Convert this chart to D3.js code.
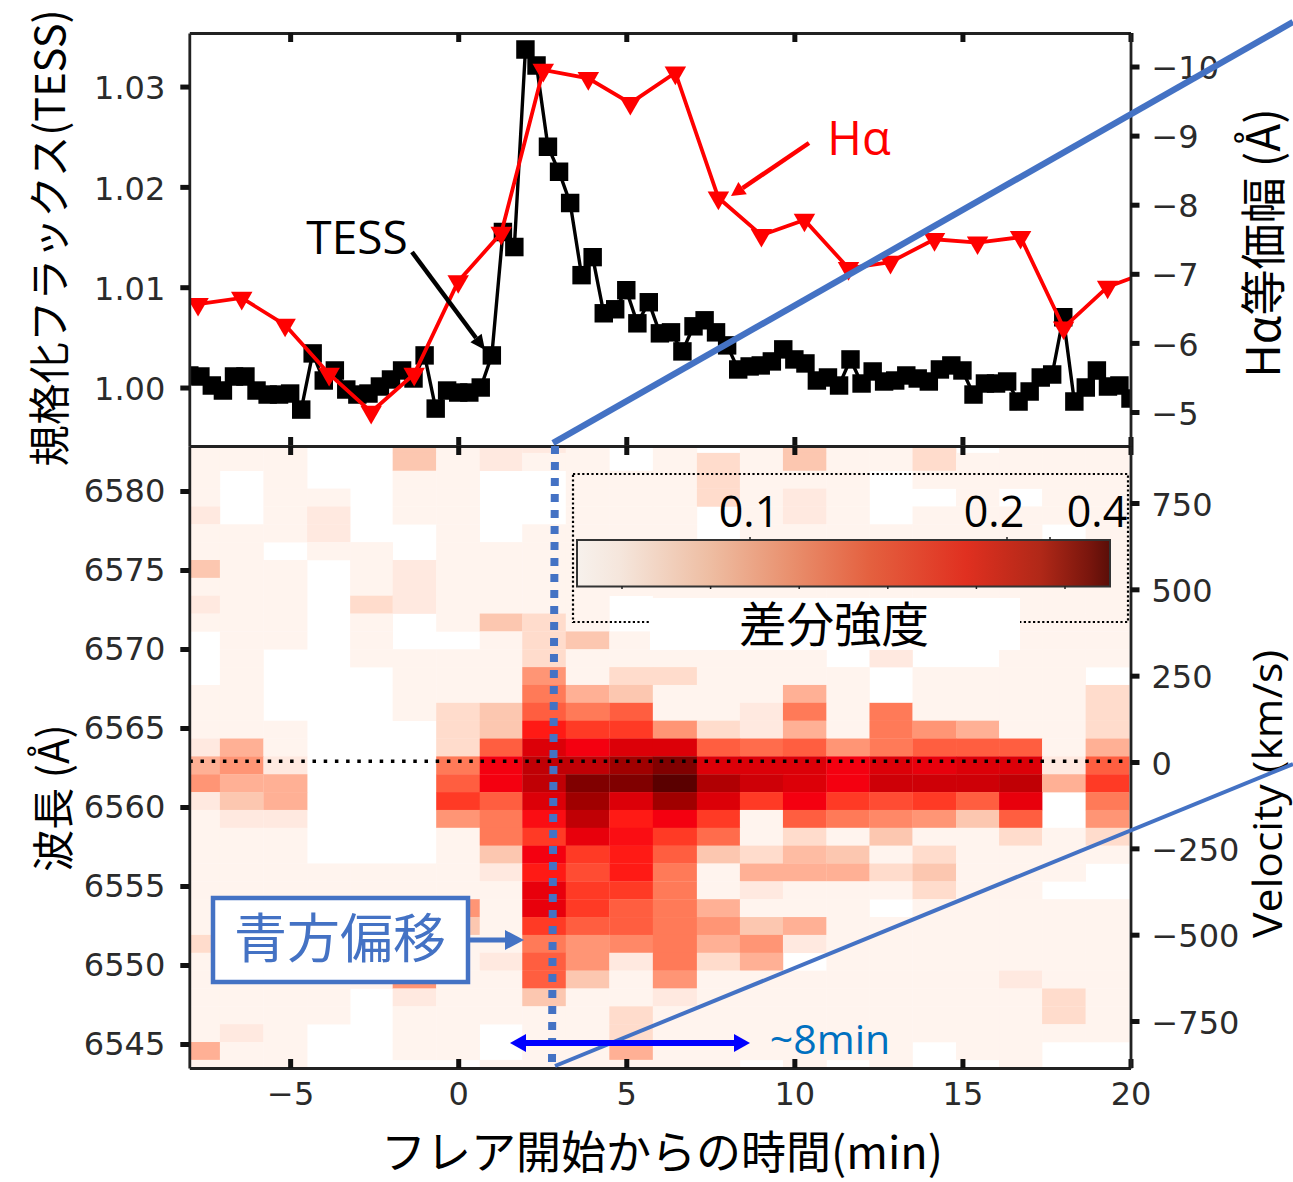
<!DOCTYPE html>
<html>
<head>
<meta charset="utf-8">
<script src="https://cdn.jsdelivr.net/npm/d3@7"></script>
<style>
  body { margin: 0; background: #fff; }
  svg { display: block; }
  .tick text { font-family: "DejaVu Sans", sans-serif; font-size: 32px; fill: #2b2b2b; }
  .jp { font-family: "Noto Sans CJK JP", sans-serif; }
  .latin { font-family: "Open Sans", "Noto Sans", sans-serif; }
</style>
</head>
<body>
<svg id="chart" width="1293" height="1182"></svg>
<script>
const n = null;

// TESS light curve
const tessTime = [-8.00,-7.67,-7.33,-7.00,-6.67,-6.33,-6.00,-5.67,-5.33,-5.00,-4.67,-4.33,-4.00,-3.67,-3.33,-3.00,-2.67,-2.33,-2.00,-1.67,-1.33,-1.00,-0.67,-0.33,0.00,0.33,0.67,1.00,1.33,1.67,2.00,2.33,2.67,3.00,3.33,3.67,4.00,4.33,4.67,5.00,5.33,5.67,6.00,6.33,6.67,7.00,7.33,7.67,8.00,8.33,8.67,9.00,9.33,9.67,10.00,10.33,10.67,11.00,11.33,11.67,12.00,12.33,12.67,13.00,13.33,13.67,14.00,14.33,14.67,15.00,15.33,15.67,16.00,16.33,16.67,17.00,17.33,17.67,18.00,18.33,18.67,19.00,19.33,19.67,20.00];
const tessFlux = [1.0012,1.0011,1.0002,0.9997,1.0011,1.0011,0.9997,0.9993,0.9993,0.9994,0.9978,1.0034,1.0007,1.0017,0.9998,0.9993,0.9994,1.0001,1.0008,1.0017,1.0009,1.0032,0.9979,0.9997,0.9995,0.9995,1.0000,1.0032,1.0155,1.0140,1.0337,1.0321,1.0240,1.0215,1.0184,1.0112,1.0130,1.0074,1.0078,1.0097,1.0064,1.0085,1.0054,1.0055,1.0036,1.0061,1.0067,1.0055,1.0042,1.0018,1.0021,1.0022,1.0026,1.0038,1.0028,1.0024,1.0007,1.0010,1.0002,1.0028,1.0004,1.0016,1.0006,1.0007,1.0012,1.0009,1.0006,1.0018,1.0022,1.0017,0.9993,1.0004,1.0004,1.0006,0.9986,0.9996,1.0010,1.0013,1.0070,0.9986,1.0000,1.0017,1.0001,1.0002,0.9989];

// H-alpha equivalent width
const haTime = [-7.74,-6.44,-5.15,-3.84,-2.59,-1.31,0.00,1.28,2.53,3.87,5.12,6.46,7.74,9.02,10.30,11.61,12.86,14.17,15.45,16.73,18.01,19.32,20.60];
const haWidth = [-6.56,-6.65,-6.26,-5.55,-5.00,-5.55,-6.89,-7.59,-9.95,-9.83,-9.47,-9.91,-8.10,-7.56,-7.78,-7.08,-7.17,-7.50,-7.45,-7.53,-6.22,-6.81,-7.04];

// spectrogram rows (Angstrom), one row of colour levels per wavelength
const waveRows = [6582.98,6581.85,6580.72,6579.59,6578.46,6577.33,6576.20,6575.07,6573.94,6572.81,6571.68,6570.55,6569.42,6568.29,6567.16,6566.03,6564.90,6563.77,6562.64,6561.51,6560.38,6559.25,6558.12,6556.99,6555.86,6554.73,6553.60,6552.47,6551.34,6550.21,6549.08,6547.95,6546.82,6545.69,6544.56,6543.43];
const waveStep = 1.129;
const diffLevels = [
  [0,0,0,n,n,3,0,1,1,0,n,0,n,0,3,0,0,2,n,0,0,0],
  [0,0,0,n,n,3,0,1,0,0,n,0,2,0,3,0,0,2,0,0,0,0],
  [0,n,0,n,n,0,0,n,n,0,0,0,2,0,0,0,n,0,0,0,0,0],
  [0,n,0,0,n,0,0,n,n,0,0,0,2,0,1,0,n,n,0,n,0,0],
  [1,n,0,1,n,0,0,n,n,0,0,0,n,0,1,0,n,0,0,0,0,0],
  [0,0,0,1,n,n,0,n,0,0,0,0,n,0,0,0,0,0,0,0,n,0],
  [0,0,n,0,0,n,0,0,0,0,0,0,0,0,0,0,0,0,0,0,0,0],
  [3,0,0,n,0,1,0,0,0,0,0,0,0,0,0,0,0,0,0,0,0,0],
  [0,0,0,n,0,1,0,0,0,0,0,0,0,0,0,0,0,0,0,0,0,0],
  [1,0,0,n,2,1,0,0,0,0,n,0,0,0,0,0,0,0,0,0,0,0],
  [0,0,0,n,0,n,0,3,2,0,n,0,0,0,0,0,0,0,0,0,0,0],
  [n,0,0,n,0,n,n,0,2,3,0,0,0,0,0,0,0,0,0,0,0,0],
  [n,0,n,n,0,0,0,0,2,0,0,0,0,0,0,n,1,n,n,0,0,0],
  [n,0,n,n,n,0,0,0,5,0,2,2,0,0,0,0,n,0,0,0,0,n],
  [0,0,n,n,n,0,0,0,6,4,3,0,0,0,4,0,n,0,0,0,0,2],
  [0,0,n,n,n,0,2,3,7,6,7,0,0,1,6,0,6,0,0,0,0,2],
  [0,0,0,n,n,n,2,3,9,8,8,5,2,1,4,0,6,5,4,0,0,2],
  [1,4,0,n,n,n,2,7,11,10,11,11,7,6.5,7,5,6,7,7,7,0,4],
  [4,5,1,n,n,n,6,10,12,12,13,14,11,11,11,10,11,10.5,11,11,1,7],
  [5,4,4,n,n,n,7,10,12,14,14,15,12.5,11.5,11,10,11.5,11.5,11.5,12,4,8],
  [1,3,4,n,n,n,8,7,11,13,11,13,11,8,10,8,7.5,8,7,10.5,n,6],
  [0,1,1,n,n,n,5,6,9.5,12,9,10,8,0,7,6,5.5,5,3,7,n,5],
  [0,0,0,n,n,n,0,6,8,10.5,9.5,8,6.5,0,2,0,3,0,0,2,0,2],
  [0,0,0,n,n,n,0,3,10,8,9,7,3,2,3.5,3,0,2,0,0,0,0],
  [0,0,0,0,0,0,0,1,9,7.5,9,6,0,4,4,4,2,3,0,0,0,n],
  [0,0,0,0,0,0,0,0,10.5,8,8,6,0,1,0,0,0,2,0,0,n,n],
  [0,0,0,0,0,0,5,0,10.5,8,7,6,4,0,0,0,n,0,0,0,0,0],
  [0,0,0,0,0,0,3,0,8,7,7,6,5,3,4,0,0,0,0,0,0,0],
  [2,0,0,0,0,0,0,0,6,5,5.5,6,4,5,1,0,0,0,0,0,0,0],
  [0,0,0,0,0,0,0,1,7,5,1,6,2,4,n,0,0,0,0,0,0,0],
  [0,0,0,0,0,5,0,0,7,3,0,5,0,0,0,0,0,0,0,1,0,0],
  [0,0,0,0,n,1,0,0,3,0,0,1,0,0,0,0,0,0,0,0,2,0],
  [0,0,0,0,n,0,0,0,0,0,2,0,0,0,0,0,0,0,0,0,2,0],
  [0,1,0,n,n,0,0,n,0,0,2,0,0,0,0,0,0,0,0,0,0,0],
  [4,0,0,n,n,0,0,n,0,0,4,0,0,0,0,0,0,n,0,0,n,n],
  [0,0,0,n,n,n,n,0,0,0,0,0,0,n,0,n,0,n,n,0,n,n]
];
const levelColors = ["#fff4ee","#ffe9e0","#ffdccc","#fcc7b0","#ffb095","#ff9575","#ff7a58","#ff5e40","#ff3a25","#ff1a15","#f40010","#dc0008","#c00005","#a00000","#800000","#5a0000"];

// ticks
const timeTicks = [-5, 0, 5, 10, 15, 20];
const fluxTicks = [1.00, 1.01, 1.02, 1.03];
const widthTicks = [-10, -9, -8, -7, -6, -5];
const waveTicks = [6580, 6575, 6570, 6565, 6560, 6555, 6550, 6545];
const velocityTicks = [750, 500, 250, 0, -250, -500, -750];

// colour bar
const barOffsets = [0, 0.08, 0.25, 0.4, 0.55, 0.73, 0.87, 0.96, 1];
const barColors = ["#f7f1ec", "#f5e6dc", "#eebda2", "#e9906e", "#e4603f", "#e03020", "#b02818", "#7a160d", "#5a0e08"];
const barTopTicks = [0.1, 0.2, 0.4];
const barBottomTicks = [1, 2, 3, 4, 5, 6];

const plotLeft = 189.3, plotRight = 1130.5, plotTop = 33, plotMid = 446, plotBottom = 1068;
const blue = "#4472c4";

const svg = d3.select("#chart");

const x = d3.scaleLinear().domain([-8, 20]).range([plotLeft, plotRight]);
const yFlux = d3.scaleLinear().domain([1.03534, 0.99417]).range([plotTop, plotMid]);
const yWidth = d3.scaleLinear().domain([-10.485, -4.508]).range([plotTop, plotMid]);
const yWave = d3.scaleLinear().domain([6582.85, 6543.48]).range([plotMid, plotBottom]);
const yVel = d3.scaleLinear().domain([915, -886]).range([plotMid, plotBottom]);
const levelColor = d3.scaleLinear().domain(levelColors.map((c, i) => i)).range(levelColors);

const defs = svg.append("defs");
defs.append("clipPath").attr("id", "clipTop").append("rect")
    .attr("x", plotLeft).attr("y", plotTop).attr("width", plotRight - plotLeft).attr("height", plotMid - plotTop);
defs.append("clipPath").attr("id", "clipBottom").append("rect")
    .attr("x", plotLeft).attr("y", plotMid).attr("width", plotRight - plotLeft).attr("height", plotBottom - plotMid);

const grad = defs.append("linearGradient").attr("id", "barGrad");
grad.selectAll("stop").data(barOffsets).enter().append("stop")
    .attr("offset", d => d)
    .attr("stop-color", (d, i) => barColors[i]);

// spectrogram, columns are centred on the H-alpha exposures
const colEdge = i => {
    if (i === 0) return x(-8.5);
    return x((haTime[i - 1] + haTime[i]) / 2);
};
const gHeatClip = svg.append("g").attr("clip-path", "url(#clipBottom)");
const gHeat = gHeatClip.append("g").style("filter", "blur(0.6px)");
diffLevels.forEach((row, r) => {
    row.forEach((level, c) => {
        if (level === null) return;
        gHeat.append("rect")
            .attr("x", colEdge(c))
            .attr("width", colEdge(c + 1) - colEdge(c) + 0.3)
            .attr("y", yWave(waveRows[r] + waveStep / 2))
            .attr("height", yWave(waveRows[r] - waveStep / 2) - yWave(waveRows[r] + waveStep / 2) + 0.3)
            .attr("fill", levelColor(level));
    });
});

// H-alpha rest wavelength
svg.append("line")
    .attr("x1", plotLeft).attr("x2", plotRight)
    .attr("y1", yWave(6562.9)).attr("y2", yWave(6562.9))
    .attr("stroke", "#000").attr("stroke-width", 3.5).attr("stroke-dasharray", "3.5 7.7");

// light curves
const gTop = svg.append("g").attr("clip-path", "url(#clipTop)");
const tessLine = d3.line().x((d, i) => x(tessTime[i])).y(d => yFlux(d));
const haLine = d3.line().x((d, i) => x(haTime[i])).y(d => yWidth(d));

gTop.append("path").datum(tessFlux)
    .attr("d", tessLine).attr("fill", "none").attr("stroke", "#000").attr("stroke-width", 3.4);
gTop.selectAll(".tess").data(tessFlux).enter().append("path")
    .attr("class", "tess")
    .attr("d", d3.symbol(d3.symbolSquare, 340))
    .attr("transform", (d, i) => "translate(" + x(tessTime[i]) + "," + yFlux(d) + ")");

gTop.append("path").datum(haWidth)
    .attr("d", haLine).attr("fill", "none").attr("stroke", "#ff0000").attr("stroke-width", 3.8);
gTop.selectAll(".ha").data(haWidth).enter().append("path")
    .attr("class", "ha")
    .attr("d", d3.symbol(d3.symbolTriangle, 200))
    .attr("fill", "#ff0000")
    .attr("transform", (d, i) => "translate(" + x(haTime[i]) + "," + yWidth(d) + ") rotate(180)");

// axes
const axisStyle = g => {
    g.selectAll(".domain").attr("stroke", "#222").attr("stroke-width", 2.8);
    g.selectAll(".tick line").attr("stroke", "#111").attr("stroke-width", 5);
};
const yLabelShift = g => g.selectAll(".tick text").attr("dy", "0.38em");
const noLabel = () => "";
const timeAxis = axis => axis.tickValues(timeTicks).tickSize(-9).tickSizeOuter(0);
svg.append("g").attr("transform", "translate(0," + plotTop + ")")
    .call(timeAxis(d3.axisTop(x)).tickFormat(noLabel)).call(axisStyle);
svg.append("g").attr("transform", "translate(0," + plotMid + ")")
    .call(timeAxis(d3.axisBottom(x)).tickFormat(noLabel)).call(axisStyle);
svg.append("g").attr("transform", "translate(0," + plotMid + ")")
    .call(timeAxis(d3.axisTop(x)).tickFormat(noLabel)).call(axisStyle);
svg.append("g").attr("transform", "translate(0," + plotBottom + ")")
    .call(timeAxis(d3.axisBottom(x)).tickPadding(14).tickFormat(d3.format("d"))).call(axisStyle);

svg.append("g").attr("transform", "translate(" + plotLeft + ",0)")
    .call(d3.axisLeft(yFlux).tickValues(fluxTicks).tickSize(9).tickSizeOuter(0).tickPadding(15).tickFormat(d3.format(".2f")))
    .call(axisStyle).call(yLabelShift);
svg.append("g").attr("transform", "translate(" + plotRight + ",0)")
    .call(d3.axisRight(yWidth).tickValues(widthTicks).tickSize(9).tickSizeOuter(0).tickPadding(12).tickFormat(d3.format("d")))
    .call(axisStyle).call(yLabelShift);
svg.append("g").attr("transform", "translate(" + plotLeft + ",0)")
    .call(d3.axisLeft(yWave).tickValues(waveTicks).tickSize(9).tickSizeOuter(0).tickPadding(15).tickFormat(d3.format("d")))
    .call(axisStyle);
svg.append("g").attr("transform", "translate(" + plotRight + ",0)")
    .call(d3.axisRight(yVel).tickValues(velocityTicks).tickSize(9).tickSizeOuter(0).tickPadding(12).tickFormat(d3.format("d")))
    .call(axisStyle).call(yLabelShift);

// colour bar box
svg.append("rect")
    .attr("x", 573).attr("y", 474).attr("width", 555).attr("height", 148)
    .attr("fill", "none").attr("stroke", "#000").attr("stroke-width", 2.2).attr("stroke-dasharray", "2.2 2.4");
svg.append("rect")
    .attr("x", 650).attr("y", 598).attr("width", 370).attr("height", 52).attr("fill", "#fff");

const barTop = d3.scaleLinear().domain(barTopTicks).range([750, 1007, 1050]);
const barBottom = d3.scaleLinear().domain([1, 6]).range([622, 1065]);
svg.append("rect")
    .attr("x", 577).attr("y", 540).attr("width", 533).attr("height", 46.5)
    .attr("fill", "url(#barGrad)").attr("stroke", "#333").attr("stroke-width", 2);
svg.append("g").selectAll("line").data(barTopTicks).enter().append("line")
    .attr("x1", d => barTop(d)).attr("x2", d => barTop(d))
    .attr("y1", 537).attr("y2", 540).attr("stroke", "#222").attr("stroke-width", 1.5);
svg.append("g").selectAll("line").data(barBottomTicks).enter().append("line")
    .attr("x1", d => barBottom(d)).attr("x2", d => barBottom(d))
    .attr("y1", 586).attr("y2", 589).attr("stroke", "#222").attr("stroke-width", 1.5);

const label = (txt, px, py, size, cls, fill, anchor) => svg.append("text")
    .attr("class", cls)
    .attr("x", px).attr("y", py)
    .attr("font-size", size)
    .attr("fill", fill || "#000")
    .attr("text-anchor", anchor || "middle")
    .text(txt);

label("0.1", 749, 527, 43, "latin");
label("0.2", 994, 527, 43, "latin");
label("0.4", 1097, 527, 43, "latin");
label("差分強度", 834, 642, 47.5, "jp");

// axis titles
label("規格化フラックス(TESS)", 0, 0, 41.5, "jp").attr("transform", "translate(65,238) rotate(-90)");
label("波長 (Å)", 0, 0, 42, "jp").attr("transform", "translate(69,798) rotate(-90)");
label("Hα等価幅 (Å)", 0, 0, 46, "jp").attr("transform", "translate(1280,243) rotate(-90)");
label("Velocity (km/s)", 0, 0, 40, "latin").attr("textLength", 288).attr("lengthAdjust", "spacingAndGlyphs")
    .attr("transform", "translate(1282,794) rotate(-90)");
label("フレア開始からの時間(min)", 662, 1169, 45, "jp");

// annotations
const arrow = (x1, y1, x2, y2, color, w, headLen, headWidth) => {
    const a = Math.atan2(y2 - y1, x2 - x1);
    const bx = x2 - headLen * Math.cos(a), by = y2 - headLen * Math.sin(a);
    svg.append("line").attr("x1", x1).attr("y1", y1).attr("x2", bx).attr("y2", by)
        .attr("stroke", color).attr("stroke-width", w);
    const nx = -Math.sin(a) * headWidth / 2, ny = Math.cos(a) * headWidth / 2;
    svg.append("path")
        .attr("d", "M" + x2 + "," + y2 + "L" + (bx + nx) + "," + (by + ny) + "L" + (bx - nx) + "," + (by - ny) + "Z")
        .attr("fill", color);
};

label("TESS", 357, 254, 46, "latin");
arrow(412, 252, 485, 350, "#000", 4.5, 15, 14);
label("Hα", 859, 155, 47, "latin", "#ff0000");
arrow(809, 143, 731, 196, "#ff0000", 4.5, 14, 15);

// zoom guides
svg.append("line").attr("x1", 553).attr("y1", 443).attr("x2", 1293).attr("y2", 22)
    .attr("stroke", blue).attr("stroke-width", 6.3);
svg.append("line").attr("x1", 555).attr("y1", 1066).attr("x2", 1293).attr("y2", 764)
    .attr("stroke", blue).attr("stroke-width", 4);
svg.append("line").attr("x1", 555).attr("y1", 446).attr("x2", 552).attr("y2", 1062)
    .attr("stroke", blue).attr("stroke-width", 8).attr("stroke-dasharray", "8 8");

// blue shift box
svg.append("rect")
    .attr("x", 213).attr("y", 898).attr("width", 255).attr("height", 84)
    .attr("fill", "#fff").attr("stroke", blue).attr("stroke-width", 4.5);
label("青方偏移", 340, 958, 53, "jp", blue);
arrow(468, 940, 524, 940, blue, 5, 19, 20);

// duration arrow
arrow(560, 1043, 510, 1043, "#0000ff", 6, 16, 18);
arrow(560, 1043, 750, 1043, "#0000ff", 6, 16, 18);
label("~8min", 830, 1054, 41, "latin", "#0070c0");
</script>
</body>
</html>
